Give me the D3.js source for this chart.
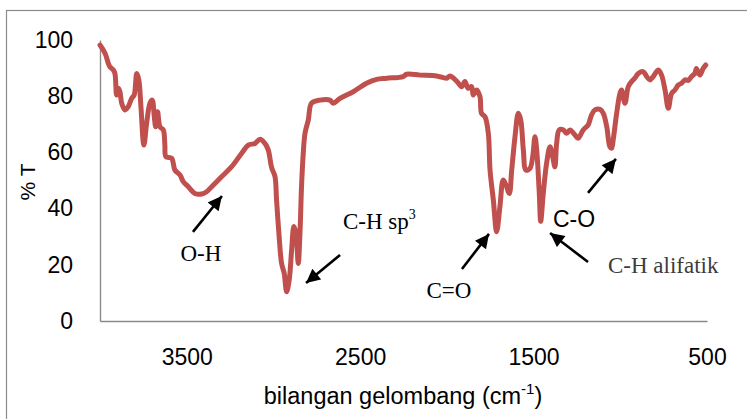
<!DOCTYPE html>
<html>
<head>
<meta charset="utf-8">
<script src="https://cdn.jsdelivr.net/npm/d3@7"></script>
<style>
  html, body { margin: 0; padding: 0; background: #fff; }
  svg { display: block; }
</style>
</head>
<body>
<svg id="chart" width="747" height="419"></svg>
<script>
// wavenumber (cm-1)
const wavenumber = [4000,3971,3952,3943,3923,3914,3904,3894,3885,3875,3856,3837,3817,3803,3788,3776,3764,3747,3731,3712,3699,3687,3679,3668,3654,3635,3626,3620,3587,3568,3539,3520,3491,3453,3414,3385,3356,3298,3241,3183,3145,3106,3077,3049,3030,3010,2991,2982,2967,2953,2938,2924,2909,2895,2882,2870,2857,2847,2838,2828,2818,2799,2780,2732,2674,2655,2616,2540,2463,2405,2347,2252,2232,2155,2059,2001,1982,1941,1915,1896,1877,1857,1848,1828,1809,1800,1780,1761,1751,1732,1713,1694,1675,1659,1640,1626,1607,1588,1574,1559,1544,1521,1505,1492,1482,1467,1459,1444,1425,1405,1390,1377,1367,1352,1329,1309,1290,1261,1243,1214,1185,1166,1146,1117,1098,1078,1060,1050,1041,1021,1002,993,973,954,935,916,896,867,848,829,810,781,762,742,723,704,685,665,647,627,608,589,570,561,541,522,507];
// transmittance (% T)
const transmittance = [98.2,95.3,91.7,90.5,89.3,88.1,80.4,82.8,81.6,77.5,75.1,76.3,79.3,80.4,88.1,85.8,76.3,62.6,70.4,77.5,78.6,72.7,69.1,74.5,69.1,68,62.6,58.5,57.9,53.7,52,49.6,47.8,45.4,45.2,46,47.8,51.4,54.9,59.7,62.6,63.2,64.7,63.2,60.9,54.5,51.4,43,30,20.5,17,10.4,14.6,25.3,33.6,31.2,20.5,31.2,47.8,59.7,66.8,71.5,77.5,78.6,78.6,77.5,79.2,81.6,84.6,86,86.4,87,87.8,87.5,87.2,86.4,87.2,85.2,83.4,85.2,82.8,83.4,80.4,82.2,79.8,73.9,72.7,66.8,53.7,43.1,31.8,40.7,50.2,48.4,45.4,53.7,65.6,73.9,71.5,60.9,53.7,54.3,58.5,65.6,60.9,45.4,35.5,45.4,56.1,62,58.5,54.9,63.2,68,68,66.8,68,66.2,65,68,69.8,73.3,75.1,75.3,73.9,69.1,62,61.5,64.4,73.9,81,82.2,77.5,83.4,85.2,86.4,88.1,88.7,87,85.8,87,89.3,87.5,82.2,75.7,81,82.2,84,84.6,85.8,85.6,87,88.1,89.9,87.5,89.9,91.1];

const xTicks = [3500, 2500, 1500, 500];
const yTicks = [0, 20, 40, 60, 80, 100];

// annotation labels (text anchor point and arrow tail/head, in data units)
const annLabels = ["O-H", "C-H sp", "C=O", "C-O", "C-H alifatik"];
const annSup    = ["", "3", "", "", ""];
const annTextWn = [3418, 2599, 1988, 1388, 1071];
const annTextT  = [21.4, 32.7, 8.2, 33.5, 17.1];
const annAnchor = ["middle", "start", "middle", "start", "start"];
const annSerif  = [true, true, true, false, true];
const annColor  = ["#000", "#000", "#000", "#000", "#3c3c3c"];
const arrowTailWn = [3464, 2616, 1913, 1186, 1186];
const arrowTailT  = [31.7, 23.5, 18.5, 45.6, 21];
const arrowHeadWn = [3297, 2812, 1757, 1025, 1405];
const arrowHeadT  = [44.5, 13.5, 31, 57.7, 31.3];

const svg = d3.select("#chart");
const W = 747, H = 419;

// outer frame
svg.append("rect")
  .attr("x", 6.5).attr("y", 10.5)
  .attr("width", W + 20).attr("height", H + 20)
  .attr("fill", "none").attr("stroke", "#8c8c8c").attr("stroke-width", 1.2);

const x = d3.scaleLinear().domain([4000, 500]).range([100, 707]);
const y = d3.scaleLinear().domain([0, 100]).range([321, 40]);

const sans = "'Liberation Sans', Arial, sans-serif";
const serif = "'Liberation Serif', 'Times New Roman', serif";

// y axis
const yAxis = svg.append("g")
  .attr("transform", "translate(100,0)")
  .call(d3.axisLeft(y).tickValues(yTicks).tickFormat(d3.format("d")).tickSize(0).tickSizeOuter(0).tickPadding(27));
yAxis.select(".domain").attr("stroke", "#8a8a8a").attr("stroke-width", 1.4);
yAxis.selectAll("text").attr("font-family", sans).attr("font-size", 23).attr("fill", "#000");

// x axis
const xAxis = svg.append("g")
  .attr("transform", "translate(0,321)")
  .call(d3.axisBottom(x).tickValues(xTicks).tickFormat(d3.format("d")).tickSize(0).tickSizeOuter(0).tickPadding(28));
xAxis.select(".domain").attr("stroke", "#8a8a8a").attr("stroke-width", 1.4);
xAxis.selectAll("text").attr("font-family", sans).attr("font-size", 23).attr("fill", "#000");

// axis titles
svg.append("text")
  .attr("transform", "translate(35,182) rotate(-90)")
  .attr("text-anchor", "middle")
  .attr("font-family", sans).attr("font-size", 21).attr("fill", "#000")
  .text("% T");

const xt = svg.append("text")
  .attr("x", 403).attr("y", 404)
  .attr("text-anchor", "middle")
  .attr("font-family", sans).attr("font-size", 23.5).attr("fill", "#000");
xt.append("tspan").text("bilangan gelombang (cm");
xt.append("tspan").attr("font-size", 15).attr("dy", -10).text("-1");
xt.append("tspan").attr("dy", 10).text(")");

// spectrum line
const data = wavenumber.map((w, i) => ({ w, t: transmittance[i] }));
svg.append("path")
  .datum(data)
  .attr("fill", "none")
  .attr("stroke", "#c0504d")
  .attr("stroke-width", 5)
  .attr("stroke-linejoin", "round")
  .attr("stroke-linecap", "round")
  .attr("d", d3.line().x(d => x(d.w)).y(d => y(d.t)).curve(d3.curveCatmullRom.alpha(0.5)));

// arrow marker
svg.append("defs").append("marker")
  .attr("id", "ah")
  .attr("viewBox", "0 0 10 10")
  .attr("refX", 10).attr("refY", 5)
  .attr("markerUnits", "userSpaceOnUse")
  .attr("markerWidth", 15).attr("markerHeight", 14)
  .attr("orient", "auto")
  .append("path").attr("d", "M0,0 L10,5 L0,10 Z").attr("fill", "#000");

// arrows
svg.append("g").selectAll("line")
  .data(d3.range(annLabels.length))
  .join("line")
  .attr("x1", i => x(arrowTailWn[i])).attr("y1", i => y(arrowTailT[i]))
  .attr("x2", i => x(arrowHeadWn[i])).attr("y2", i => y(arrowHeadT[i]))
  .attr("stroke", "#000").attr("stroke-width", 2.6)
  .attr("marker-end", "url(#ah)");

// labels
const lab = svg.append("g").selectAll("text")
  .data(d3.range(annLabels.length))
  .join("text")
  .attr("x", i => x(annTextWn[i])).attr("y", i => y(annTextT[i]))
  .attr("text-anchor", i => annAnchor[i])
  .attr("font-family", i => annSerif[i] ? serif : sans)
  .attr("font-size", 23)
  .attr("fill", i => annColor[i]);
lab.append("tspan").text(i => annLabels[i]);
lab.filter(i => annSup[i]).append("tspan")
  .attr("font-size", 14).attr("dy", -10).text(i => annSup[i]);
</script>
</body>
</html>
